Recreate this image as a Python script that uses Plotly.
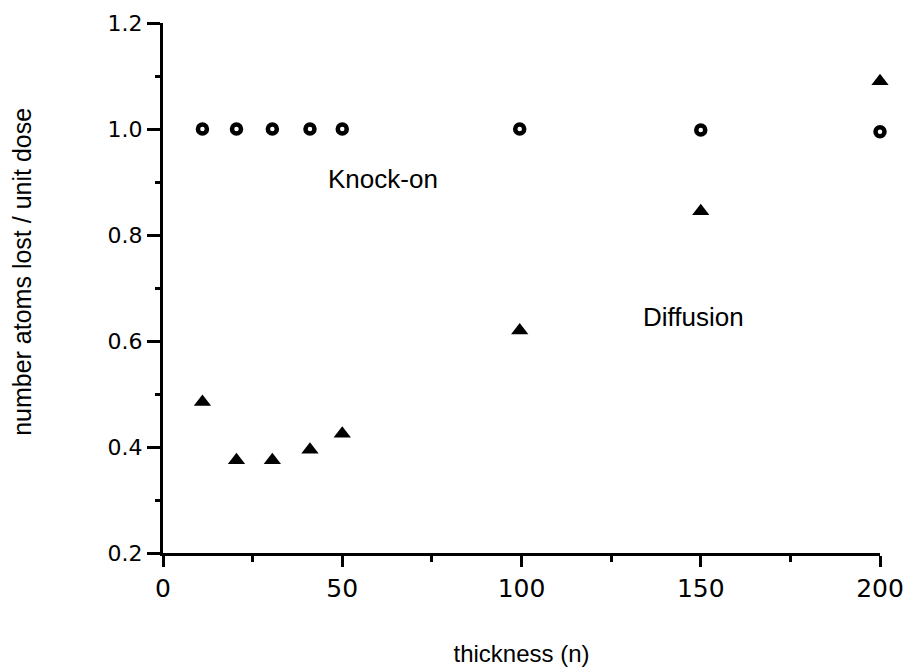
import plotly.graph_objects as go

knock_x = [11, 20.5, 30.5, 41, 50, 99.5, 150, 200]
knock_y = [1.0, 1.0, 1.0, 1.0, 1.0, 1.0, 0.998, 0.995]
diff_x = [11, 20.5, 30.5, 41, 50, 99.5, 150, 200]
diff_y = [0.485, 0.375, 0.375, 0.395, 0.425, 0.62, 0.845, 1.09]
x_ticks = [0, 50, 100, 150, 200]
y_ticks = [0.2, 0.4, 0.6, 0.8, 1.0, 1.2]

font = "Liberation Sans, Arial, sans-serif"
tick_font = "DejaVu Sans, sans-serif"

fig = go.Figure()
fig.add_trace(go.Scatter(x=knock_x, y=knock_y, mode="markers", name="Knock-on",
                         cliponaxis=False,
                         marker=dict(symbol="circle-open", size=9, color="black",
                                     line=dict(width=4.5, color="black"))))
fig.add_trace(go.Scatter(x=diff_x, y=diff_y, mode="markers", name="Diffusion",
                         cliponaxis=False,
                         marker=dict(symbol="triangle-up", size=15, color="black")))

fig.add_annotation(x=61.5, y=0.906, text="Knock-on", showarrow=False,
                   font=dict(size=26, color="black", family=font))
fig.add_annotation(x=148, y=0.645, text="Diffusion", showarrow=False,
                   font=dict(size=26, color="black", family=font))
fig.add_annotation(xref="paper", yref="paper", x=-0.197, y=0.53, textangle=-90,
                   xanchor="center", yanchor="middle", showarrow=False,
                   text="number atoms lost / unit dose",
                   font=dict(size=25, color="black", family=font))

fig.update_layout(
    width=912, height=667,
    margin=dict(l=163, r=32, t=23, b=114, autoexpand=False),
    paper_bgcolor="white", plot_bgcolor="white",
    showlegend=False,
    font=dict(family=font, color="black", size=24),
    xaxis=dict(range=[0, 200], tickvals=x_ticks, showgrid=False, zeroline=False,
               automargin=False,
               showline=True, linecolor="black", linewidth=3,
               ticks="outside", ticklen=11, tickwidth=3, tickcolor="black",
               tickfont=dict(size=25, family=tick_font),
               minor=dict(ticks="outside", dtick=25, ticklen=6, tickwidth=2.5, tickcolor="black"),
               title=dict(text="thickness (n)", font=dict(size=24, family=font), standoff=46)),
    yaxis=dict(range=[0.2, 1.2], tickvals=y_ticks, tickformat=".1f", showgrid=False,
               zeroline=False, automargin=False,
               showline=True, linecolor="black", linewidth=3,
               ticks="outside", ticklen=13, tickwidth=3, tickcolor="black",
               tickfont=dict(size=22, family=tick_font),
               minor=dict(ticks="outside", dtick=0.1, ticklen=5, tickwidth=2.5, tickcolor="black")),
)

fig.write_html("out.html")
